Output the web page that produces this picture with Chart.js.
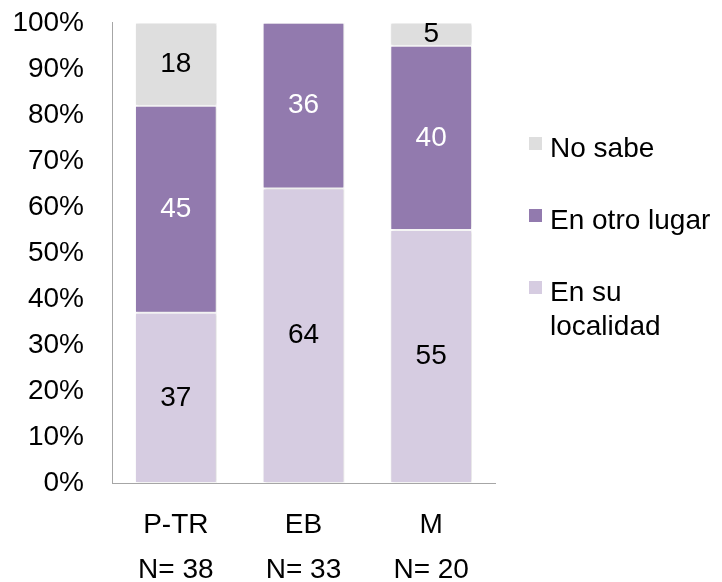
<!DOCTYPE html>
<html>
<head>
<meta charset="utf-8">
<script src="https://cdn.jsdelivr.net/npm/chart.js@4/dist/chart.umd.min.js"></script>
<style>
  html, body { margin: 0; padding: 0; background: #fff; overflow: hidden; }
  #wrap { position: relative; width: 722px; height: 582px; overflow: hidden; }
  #c { position: absolute; left: 0; top: -22px; }
  #legend { position: absolute; left: 529px; top: 131px; font-family: "Liberation Sans", Arial, sans-serif; font-size: 28px; line-height: 34px; color: #000; }
  .item { position: relative; padding-left: 21px; margin-bottom: 38px; }
  .sw { position: absolute; left: 0; top: 6px; width: 13px; height: 13px; }
</style>
</head>
<body>
<div id="wrap">
  <canvas id="c" width="722" height="604"></canvas>
  <div id="legend"></div>
</div>
<script>
  // ---- data --------------------------------------------------------------
  var categories = ["P-TR", "EB", "M"];
  var sampleSizes = ["N= 38", "N= 33", "N= 20"];
  var seriesNames = ["En su localidad", "En otro lugar", "No sabe"];
  var enSuLocalidad = [37, 64, 55];
  var enOtroLugar = [45, 36, 40];
  var noSabe = [18, 0, 5];
  var yTicks = [0, 10, 20, 30, 40, 50, 60, 70, 80, 90, 100];

  var COLORS = ["#d6cce1", "#927aae", "#dedede"];
  var LABEL_COLORS = ["#000", "#fff", "#000"];
  var FONT = "'Liberation Sans', Arial, sans-serif";

  // ---- data labels inside segments --------------------------------------
  var segLabels = {
    id: "segLabels",
    afterDatasetsDraw: function (chart) {
      var ctx = chart.ctx;
      ctx.save();
      ctx.font = "28px " + FONT;
      ctx.textAlign = "center";
      ctx.textBaseline = "middle";
      chart.data.datasets.forEach(function (ds, i) {
        var meta = chart.getDatasetMeta(i);
        meta.data.forEach(function (bar, j) {
          var v = ds.data[j];
          if (!v) return;
          ctx.fillStyle = LABEL_COLORS[i];
          ctx.fillText(String(v), bar.x, (bar.y + bar.base) / 2);
        });
      });
      ctx.restore();
    }
  };

  // ---- soft shadow on bars ----------------------------------------------
  var barShadow = {
    id: "barShadow",
    beforeDatasetsDraw: function (chart) {
      var ctx = chart.ctx;
      ctx.save();
      ctx.shadowColor = "rgba(0,0,0,0.18)";
      ctx.shadowBlur = 3;
      ctx.shadowOffsetX = 1;
    },
    afterDatasetsDraw: function (chart) {
      chart.ctx.restore();
    }
  };

  var seriesData = [enSuLocalidad, enOtroLugar, noSabe];
  var labels = categories.map(function (c, i) { return [c, sampleSizes[i]]; });

  new Chart(document.getElementById("c"), {
    type: "bar",
    data: {
      labels: labels,
      datasets: seriesNames.map(function (name, i) {
        return {
          label: name,
          data: seriesData[i],
          backgroundColor: COLORS[i],
          borderColor: "#ffffff",
          borderWidth: 1,
          borderSkipped: false,
          categoryPercentage: 1,
          barPercentage: 0.64
        };
      })
    },
    options: {
      responsive: false,
      animation: false,
      devicePixelRatio: 1,
      layout: { padding: { top: 0, right: 227, left: 0, bottom: 0 } },
      plugins: {
        legend: { display: false },
        tooltip: { enabled: false }
      },
      scales: {
        x: {
          stacked: true,
          grid: { display: false, drawTicks: false },
          border: { display: true, color: "#a6a6a6", width: 1 },
          ticks: {
            color: "#000",
            padding: 20,
            font: { family: FONT, size: 28, lineHeight: 1.6 }
          },
          afterFit: function (s) { s.height = 99; }
        },
        y: {
          stacked: true,
          min: 0,
          max: 100,
          afterBuildTicks: function (s) {
            s.ticks = yTicks.map(function (v) { return { value: v }; });
          },
          grid: { display: false, drawTicks: false },
          border: { display: true, color: "#a6a6a6", width: 1 },
          ticks: {
            color: "#000",
            padding: 28,
            font: { family: FONT, size: 28 },
            callback: function (v) { return v + "%"; }
          },
          afterFit: function (s) { s.width = 112; }
        }
      }
    },
    plugins: [barShadow, segLabels]
  });

  // ---- legend (reverse order, last label wraps) --------------------------
  var legend = document.getElementById("legend");
  var legendText = ["No sabe", "En otro lugar", "En su<br>localidad"];
  [2, 1, 0].forEach(function (idx, k) {
    var item = document.createElement("div");
    item.className = "item";
    var sw = document.createElement("span");
    sw.className = "sw";
    sw.style.background = COLORS[idx];
    var txt = document.createElement("span");
    txt.innerHTML = legendText[k];
    item.appendChild(sw);
    item.appendChild(txt);
    legend.appendChild(item);
  });
</script>
</body>
</html>
